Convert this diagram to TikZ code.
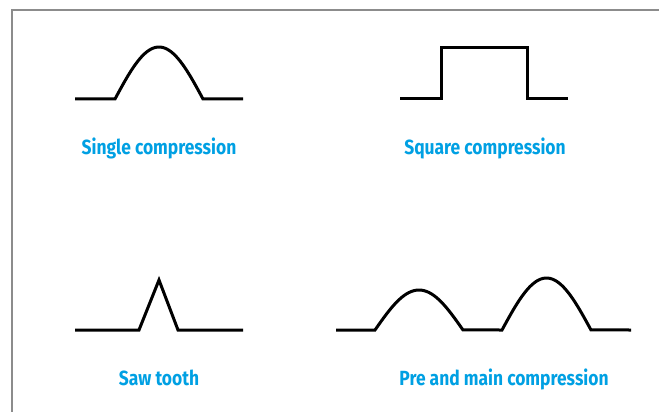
\documentclass[tikz,border=0pt]{standalone}
\usepackage{fontspec}
\newfontfamily\capfont[FakeStretch=0.85]{Fira Sans}
\definecolor{capblue}{RGB}{0,160,227}
\definecolor{framegray}{RGB}{140,140,140}

\begin{document}
\begin{tikzpicture}[
    x=1pt, y=-1pt,
    wave/.style={line width=3pt, line join=miter},
    caption/.style={font=\capfont\bfseries\fontsize{20.5}{24}\selectfont, text=capblue, anchor=base, inner sep=0pt},
    frame/.style={draw=framegray, line width=1.5pt}
]
\useasboundingbox (0,0) rectangle (659,412);

% Frame (top and left edge)
\draw[frame] (12,412) -- (12,10) -- (659,10);

% Single compression
\draw[wave] (75,99) -- (115,99)
    -- plot[domain=0:1, samples=40] ({115+88*\x}, {99-52*sin(180*\x)})
    -- (243,99);
\node[caption] (single) at (159,154) {Single compression};

% Square compression
\draw[wave] (400,99) -- (441,99) -- (441,48) -- (527,48) -- (527,99) -- (568,99);
\node[caption] (square) at (485,154) {Square compression};

% Saw tooth
\draw[wave] (75,330) -- (139,330) -- (159,280) -- (178,330) -- (243,330);
\node[caption] (saw) at (159,385) {Saw tooth};

% Pre and main compression
\draw[wave] (336,330) -- (375,330)
    -- plot[domain=0:1, samples=40] ({375+88*\x}, {330-40*sin(180*\x)})
    -- (502,330)
    -- plot[domain=0:1, samples=40] ({502+89*\x}, {330-52*sin(180*\x)})
    -- (631,330);
\node[caption] (premain) at (504,385) {Pre and main compression};

\end{tikzpicture}
\end{document}
